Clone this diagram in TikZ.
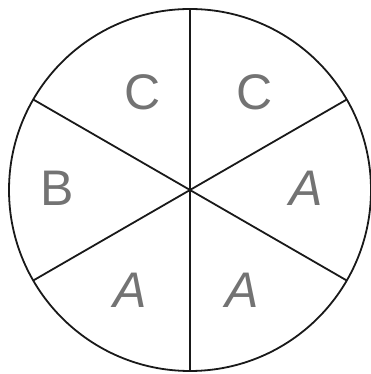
\documentclass[tikz,border=0pt]{standalone}
\usepackage{fontspec}
\setmainfont{Liberation Sans}
\usetikzlibrary{calc}
\begin{document}
\begin{tikzpicture}[x=1pt,y=1pt,
  rim/.style={line width=1.8pt,black!90},
  spoke/.style={line width=1.8pt,black!90},
  letter/.style={text=black!55,font=\fontsize{50}{50}\selectfont,inner sep=0pt}]
\useasboundingbox (0,0) rectangle (371,374);
\coordinate (o) at (190,184);
\draw[rim] (o) circle (181);
\foreach \a/\n in {90/t,30/r1,150/l1,210/l2,270/b,330/r2}{
  \coordinate (\n) at ($(o)+(\a:181)$);
}
\draw[spoke] (t) -- (b);
\draw[spoke] (l1) -- (r2);
\draw[spoke] (l2) -- (r1);
\node[letter] (c1) at (143,282) {C};
\node[letter] (c2) at (255,282) {C};
\node[letter] (bb) at (57,186) {B};
\node[letter,font=\fontsize{50}{50}\selectfont\itshape] (a1) at (306,186) {A};
\node[letter,font=\fontsize{50}{50}\selectfont\itshape] (a2) at (130,84) {A};
\node[letter,font=\fontsize{50}{50}\selectfont\itshape] (a3) at (242,84) {A};
\end{tikzpicture}
\end{document}
